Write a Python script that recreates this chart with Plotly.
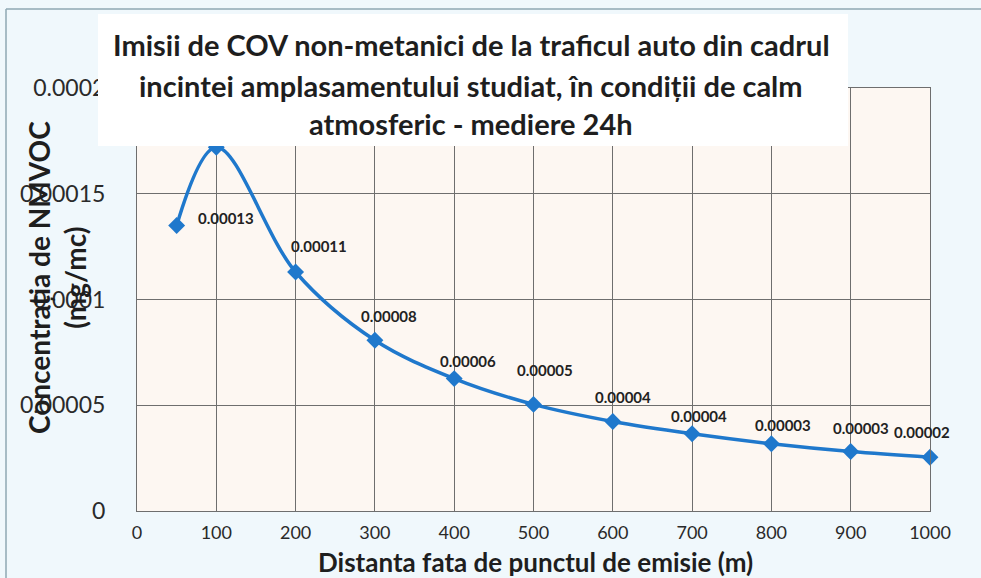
import plotly.graph_objects as go

# ---- data ----
distance_m = [50, 100, 200, 300, 400, 500, 600, 700, 800, 900, 1000]
nmvoc_mg_mc = [0.000135, 0.000172, 0.000113, 0.0000807, 0.0000626, 0.0000504,
               0.0000423, 0.0000365, 0.0000318, 0.0000281, 0.0000254]
point_labels = ["0.00013", "", "0.00011", "0.00008", "0.00006", "0.00005",
                "0.00004", "0.00004", "0.00003", "0.00003", "0.00002"]
x_ticks = [0, 100, 200, 300, 400, 500, 600, 700, 800, 900, 1000]
y_ticks = [0, 0.00005, 0.0001, 0.00015, 0.0002]
y_tick_text = ["0", "0.00005", "0.0001", "0.00015", "0.0002"]
title_lines = ["Imisii de COV non-metanici de la traficul auto din cadrul",
               "incintei amplasamentului studiat, în condiții de calm",
               "atmosferic - mediere 24h"]
x_title = "Distanta fata de punctul de emisie (m)"
y_title = "Concentrația de NMVOC<br>(mg/mc)"

# label offsets in pixels (styling)
label_dx = [49, 0, 23, 14, 14, 11, 10, 7, 12, 10, -8]
label_dy = [7, 0, 26, 24, 18, 34, 25, 18, 19, 24, 25]

FONT = "Lato, 'Open Sans', sans-serif"
BLUE = "#1f78cc"
GRID = "#6e6e6e"

W, H = 981, 578
L, R, T, B = 137, 51, 88, 67
pw, ph = W - L - R, H - T - B


def px_x(p):
    return (p - L) / pw


def px_y(p):
    return (H - B - p) / ph


fig = go.Figure()
fig.add_trace(go.Scatter(
    x=distance_m, y=nmvoc_mg_mc, mode="lines+markers",
    line=dict(color=BLUE, width=3.5, shape="spline", smoothing=1.0),
    marker=dict(symbol="diamond", size=13, color=BLUE),
    showlegend=False, cliponaxis=False,
))

annotations = []
for xv, yv, t, dx, dy in zip(distance_m, nmvoc_mg_mc, point_labels, label_dx, label_dy):
    if not t:
        continue
    annotations.append(dict(x=xv, y=yv, xref="x", yref="y", text=t, showarrow=False,
                            xshift=dx, yshift=dy,
                            font=dict(family=FONT, size=15, color="#222222", weight="bold")))

title_y_px = [45, 85, 123]
for line, ypx in zip(title_lines, title_y_px):
    annotations.append(dict(x=px_x(471), y=px_y(ypx), xref="paper", yref="paper",
                            text=line, showarrow=False, xanchor="center", yanchor="middle",
                            font=dict(family=FONT, size=29, color="#1e1e1e", weight="bold")))

annotations.append(dict(x=px_x(535), y=px_y(562), xref="paper", yref="paper",
                        text=x_title, showarrow=False, xanchor="center", yanchor="middle",
                        font=dict(family=FONT, size=26, color="#1e1e1e", weight="bold")))
annotations.append(dict(x=px_x(57), y=px_y(278), xref="paper", yref="paper",
                        text=y_title, showarrow=False, xanchor="center", yanchor="middle",
                        textangle=-90,
                        font=dict(family=FONT, size=28, color="#1e1e1e", weight="bold")))

shapes = [
    # white title box covering top of chart
    dict(type="rect", xref="paper", yref="paper", layer="above",
         x0=px_x(98), x1=px_x(848), y0=px_y(146), y1=px_y(14),
         fillcolor="white", line=dict(width=0)),
    # outer chart border (top and left)
    dict(type="line", xref="paper", yref="paper", layer="above",
         x0=px_x(6), x1=px_x(981), y0=px_y(9), y1=px_y(9),
         line=dict(color="#8fa9b3", width=1.5)),
    dict(type="line", xref="paper", yref="paper", layer="above",
         x0=px_x(6), x1=px_x(6), y0=px_y(9), y1=px_y(578),
         line=dict(color="#8fa9b3", width=1.5)),
]

fig.update_layout(
    width=W, height=H,
    margin=dict(l=L, r=R, t=T, b=B, pad=0),
    paper_bgcolor="#f0f8fc", plot_bgcolor="#fdf7f2",
    font=dict(family=FONT, color="#2a2a2a"),
    annotations=annotations, shapes=shapes,
    xaxis=dict(range=[0, 1000], tickvals=x_ticks, ticktext=[str(v) for v in x_ticks],
               showgrid=True, gridcolor=GRID, gridwidth=1,
               showline=True, linecolor=GRID, linewidth=1, mirror=True,
               ticks="", ticklabelstandoff=5, zeroline=False,
               tickfont=dict(family=FONT, size=18, color="#2a2a2a")),
    yaxis=dict(range=[0, 0.0002], tickvals=y_ticks, ticktext=y_tick_text,
               showgrid=True, gridcolor=GRID, gridwidth=1,
               showline=True, linecolor=GRID, linewidth=1, mirror=True,
               ticks="", ticklabelstandoff=26, zeroline=False,
               tickfont=dict(family=FONT, size=23, color="#2a2a2a")),
)

fig.write_html("out.html", config={"displayModeBar": False},
               post_script="document.body.style.margin='0px';document.body.style.padding='0px';")
